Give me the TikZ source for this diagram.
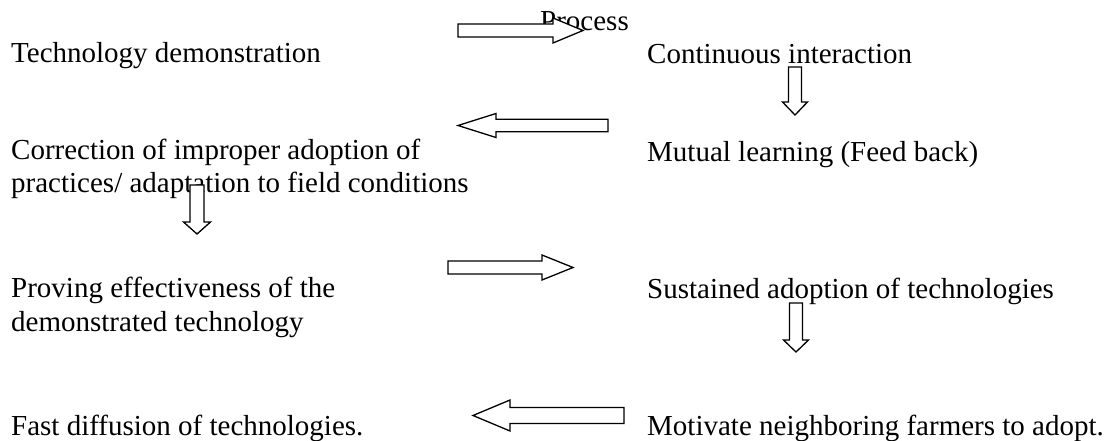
\documentclass[tikz,border=0pt]{standalone}
\usepackage{fontspec}
\setmainfont{Liberation Serif}
\usetikzlibrary{calc}

\tikzset{
  txt/.style={anchor=base west,inner sep=0pt,align=left,font=\fontsize{29}{33.5}\selectfont},
  % outlined block arrow: #1 head length, #2 half head width (pt)
  hollow/.style 2 args={draw=black,fill=white,line width=1.3pt,line join=miter,
    to path={let \p1=(\tikztostart),\p2=(\tikztotarget),
      \n1={veclen(\x2-\x1,\y2-\y1)},\n2={(\x2-\x1)/\n1},\n3={(\y2-\y1)/\n1} in
      ({\x1-(\n3)*#2*0.52pt},{\y1+(\n2)*#2*0.52pt})
      -- ({\x2-(\n2)*#1pt-(\n3)*#2*0.52pt},{\y2-(\n3)*#1pt+(\n2)*#2*0.52pt})
      -- ({\x2-(\n2)*#1pt-(\n3)*#2pt},{\y2-(\n3)*#1pt+(\n2)*#2pt})
      -- (\p2)
      -- ({\x2-(\n2)*#1pt+(\n3)*#2pt},{\y2-(\n3)*#1pt-(\n2)*#2pt})
      -- ({\x2-(\n2)*#1pt+(\n3)*#2*0.52pt},{\y2-(\n3)*#1pt-(\n2)*#2*0.52pt})
      -- ({\x1+(\n3)*#2*0.52pt},{\y1-(\n2)*#2*0.52pt}) -- cycle}}
}

\begin{document}
\begin{tikzpicture}[x=1pt,y=-1pt]
\useasboundingbox (0,0) rectangle (1111,441);
\node[txt] (proc) at (540,31) {Process};
\node[txt] (demo) at (11,63) {Technology demonstration};
\node[txt] (inter) at (647,64) {Continuous interaction};
\node[txt] (corr) at (11,193) {Correction of improper adoption of\\practices/ adaptation to field conditions};
\node[txt] (learn) at (647,161) {Mutual learning (Feed back)};
\node[txt] (prove) at (11,331) {Proving effectiveness of the\\demonstrated technology};
\node[txt] (sust) at (647,298) {Sustained adoption of technologies};
\node[txt] (fast) at (11,435) {Fast diffusion of technologies.};
\node[txt] (motiv) at (647,435) {Motivate neighboring farmers to adopt.};
% arrow ends
\coordinate (demo-s) at (458,30.5);
\coordinate (demo-e) at (583,30.5);
\coordinate (inter-s) at (795,67);
\coordinate (inter-e) at (795,115);
\coordinate (learn-s) at (608,125.5);
\coordinate (learn-e) at (458,125.5);
\coordinate (corr-s) at (197,185);
\coordinate (corr-e) at (197,234);
\coordinate (prove-s) at (448,267.5);
\coordinate (prove-e) at (573,267.5);
\coordinate (sust-s) at (796,303);
\coordinate (sust-e) at (796,352);
\coordinate (motiv-s) at (624,415.5);
\coordinate (motiv-e) at (473,415.5);
\draw[hollow={30}{12.5}] (demo-s) to (demo-e);
\draw[hollow={13}{12.5}] (inter-s) to (inter-e);
\draw[hollow={38}{12}] (learn-s) to (learn-e);
\draw[hollow={12}{13.5}] (corr-s) to (corr-e);
\draw[hollow={31}{12.5}] (prove-s) to (prove-e);
\draw[hollow={12}{12.5}] (sust-s) to (sust-e);
\draw[hollow={37}{15.5}] (motiv-s) to (motiv-e);
\end{tikzpicture}
\end{document}
